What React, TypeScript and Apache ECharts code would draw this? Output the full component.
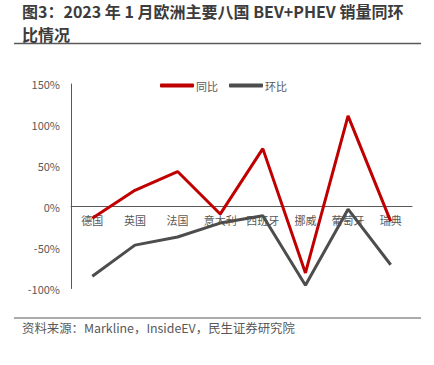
import React, { useEffect, useRef } from "react";
import * as echarts from "echarts";

const categories = ["德国", "英国", "法国", "意大利", "西班牙", "挪威", "葡萄牙", "瑞典"];
const yoy = [-14, 20, 43, -9, 71, -81, 111, -18];
const mom = [-85, -47, -37, -20, -11, -96, -3, -71];
const yTicks = { min: -100, max: 150, interval: 50 };

const titleLine1 = "图3：2023 年 1 月欧洲主要八国 BEV+PHEV 销量同环";
const titleLine2 = "比情况";
const sourceText = "资料来源：Markline，InsideEV，民生证券研究院";

const FONT = "'Noto Sans CJK SC', 'Noto Sans', sans-serif";

const GRID_TOP = 84;
const GRID_BOTTOM = 76.5;
const HEIGHT = 365;

export default function App() {
  const ref = useRef<HTMLDivElement>(null);
  useEffect(() => {
    const chart = echarts.init(ref.current!, null, { renderer: "svg" });
    const plotH = HEIGHT - GRID_TOP - GRID_BOTTOM;
    const zeroFromBottom = (plotH * (0 - yTicks.min)) / (yTicks.max - yTicks.min);
    const titleStyle = { font: `bold 16px ${FONT}`, fill: "#3c3c3c" };
    chart.setOption({
      animation: false,
      backgroundColor: "#ffffff",
      textStyle: { fontFamily: FONT },
      graphic: [
        {
          type: "text",
          left: 22,
          top: 3,
          style: { text: titleLine1, ...titleStyle },
        },
        {
          type: "text",
          left: 22,
          top: 26,
          style: { text: titleLine2, ...titleStyle },
        },
        {
          type: "line",
          shape: { x1: 14, y1: 43.5, x2: 421, y2: 43.5 },
          style: { stroke: "#595959", lineWidth: 1.5 },
        },
        {
          type: "line",
          shape: { x1: 14, y1: 318, x2: 421, y2: 318 },
          style: { stroke: "#595959", lineWidth: 1 },
        },
        {
          type: "text",
          left: 22,
          top: 322,
          style: {
            text: sourceText,
            font: `12.4px ${FONT}`,
            fill: "#595959",
          },
        },
      ],
      legend: {
        top: 75,
        left: 155,
        itemWidth: 34,
        itemHeight: 4,
        itemGap: 11,
        textStyle: { fontSize: 11, color: "#595959", fontFamily: FONT, padding: [0, 0, 0, -3] },
        data: [
          { name: "同比", icon: "roundRect" },
          { name: "环比", icon: "roundRect" },
        ],
      },
      grid: { left: 71, right: 22, top: GRID_TOP, bottom: GRID_BOTTOM },
      xAxis: {
        type: "category",
        data: categories,
        boundaryGap: true,
        position: "bottom",
        offset: -zeroFromBottom,
        axisLine: { onZero: false, lineStyle: { color: "#595959", width: 1 } },
        axisTick: { show: false },
        axisLabel: { color: "#595959", fontSize: 11, margin: 8, interval: 0, fontFamily: FONT },
        splitLine: { show: false },
      },
      yAxis: {
        type: "value",
        min: yTicks.min,
        max: yTicks.max,
        interval: yTicks.interval,
        axisLine: { show: true, lineStyle: { color: "#595959", width: 1 } },
        axisTick: { show: false },
        splitLine: { show: false },
        axisLabel: {
          color: "#595959",
          fontSize: 11,
          margin: 11,
          fontFamily: FONT,
          formatter: (v: number) => `${v}%`,
        },
      },
      series: [
        {
          name: "同比",
          type: "line",
          data: yoy,
          symbol: "none",
          lineStyle: { color: "#C00000", width: 3 },
          itemStyle: { color: "#C00000" },
          z: 3,
        },
        {
          name: "环比",
          type: "line",
          data: mom,
          symbol: "none",
          lineStyle: { color: "#4D4D4D", width: 3 },
          itemStyle: { color: "#4D4D4D" },
          z: 2,
        },
      ],
    });
    return () => chart.dispose();
  }, []);
  return (
    <div
      ref={ref}
      style={{ position: "fixed", left: 0, top: 0, width: 434, height: HEIGHT }}
    />
  );
}
